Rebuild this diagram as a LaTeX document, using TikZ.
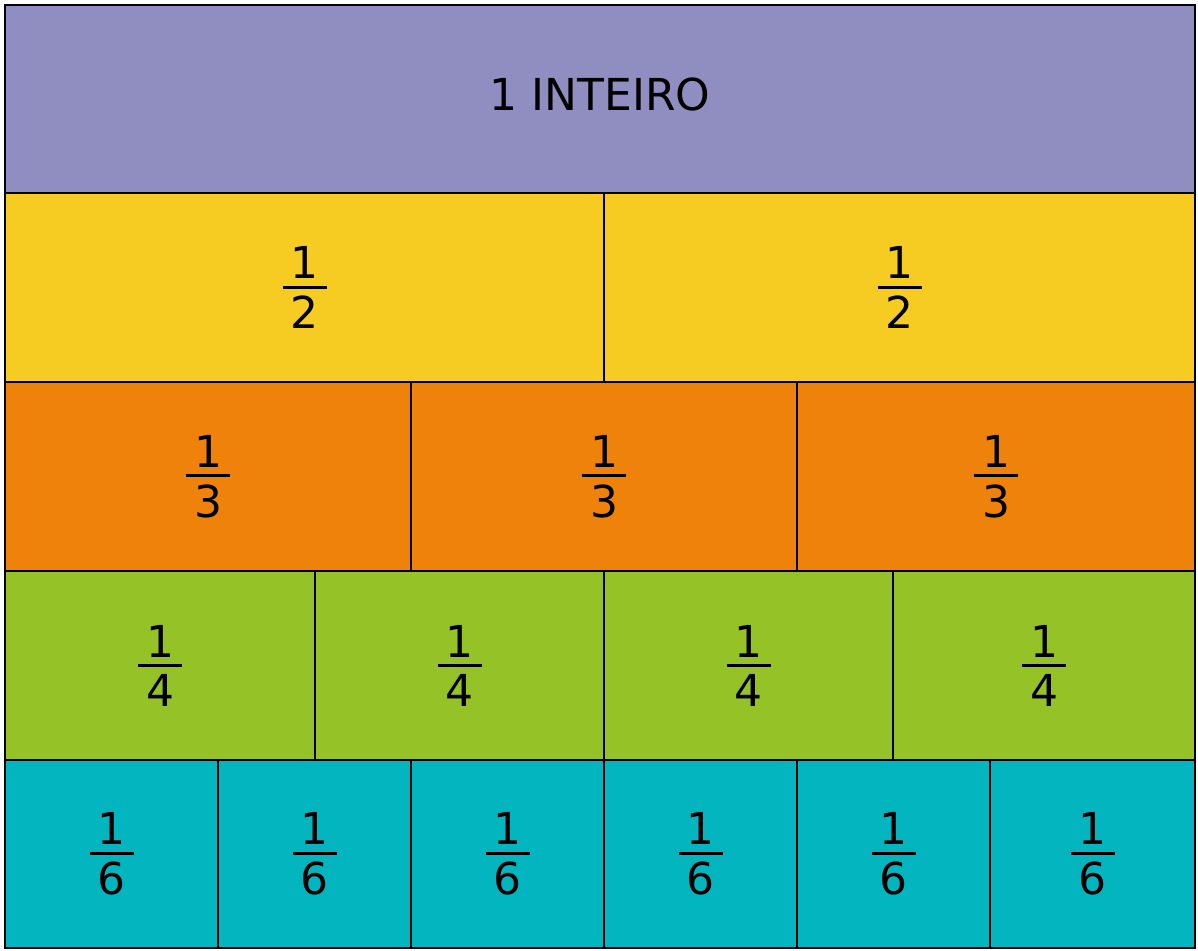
\documentclass[tikz,border=0pt]{standalone}
\usepackage{fontspec}
\setmainfont{DejaVu Sans}
\usepackage{tikz}
\usetikzlibrary{positioning}

\definecolor{wholecol}{RGB}{144,142,192}
\definecolor{halfcol}{RGB}{246,203,34}
\definecolor{thirdcol}{RGB}{239,130,10}
\definecolor{quartercol}{RGB}{149,194,38}
\definecolor{sixthcol}{RGB}{2,181,190}

\newcommand{\fracbar}[2]{\vbox{\hbox to 22pt{\hss#1\hss}\kern3.5pt\hrule height 1.5pt\kern3.5pt\hbox to 22pt{\hss#2\hss}}}

\begin{document}
\begin{tikzpicture}[
  x=0.5pt, y=-0.5pt,
  cell/.style={rectangle, draw=black, line width=1.1pt, inner sep=0pt, outer sep=0pt,
    font={\fontsize{22}{26}\selectfont}}
]
\useasboundingbox (0,0) rectangle (1198,950);
% whole
\node[cell, fill=wholecol, minimum width=595pt, minimum height=94pt, text depth=5pt,
  font={\fontsize{22}{26}\selectfont}] (whole) at (600,99) {1 INTEIRO};
% halves
\foreach \xa/\xb [count=\i] in {5/604,604/1195}
  \node[cell, fill=halfcol, minimum width={(\xb-\xa)*0.5pt}, minimum height=94.5pt]
    (h\i) at ({(\xa+\xb)/2},287.5) {\fracbar{1}{2}};
% thirds
\foreach \xa/\xb [count=\i] in {5/411,411/797,797/1195}
  \node[cell, fill=thirdcol, minimum width={(\xb-\xa)*0.5pt}, minimum height=94.5pt]
    (t\i) at ({(\xa+\xb)/2},476.5) {\fracbar{1}{3}};
% quarters
\foreach \xa/\xb [count=\i] in {5/315,315/604,604/893,893/1195}
  \node[cell, fill=quartercol, minimum width={(\xb-\xa)*0.5pt}, minimum height=94.5pt]
    (q\i) at ({(\xa+\xb)/2},665.5) {\fracbar{1}{4}};
% sixths
\foreach \xa/\xb [count=\i] in {5/218,218/411,411/604,604/797,797/990,990/1195}
  \node[cell, fill=sixthcol, minimum width={(\xb-\xa)*0.5pt}, minimum height=94pt]
    (s\i) at ({(\xa+\xb)/2},854) {\fracbar{1}{6}};
\end{tikzpicture}
\end{document}
